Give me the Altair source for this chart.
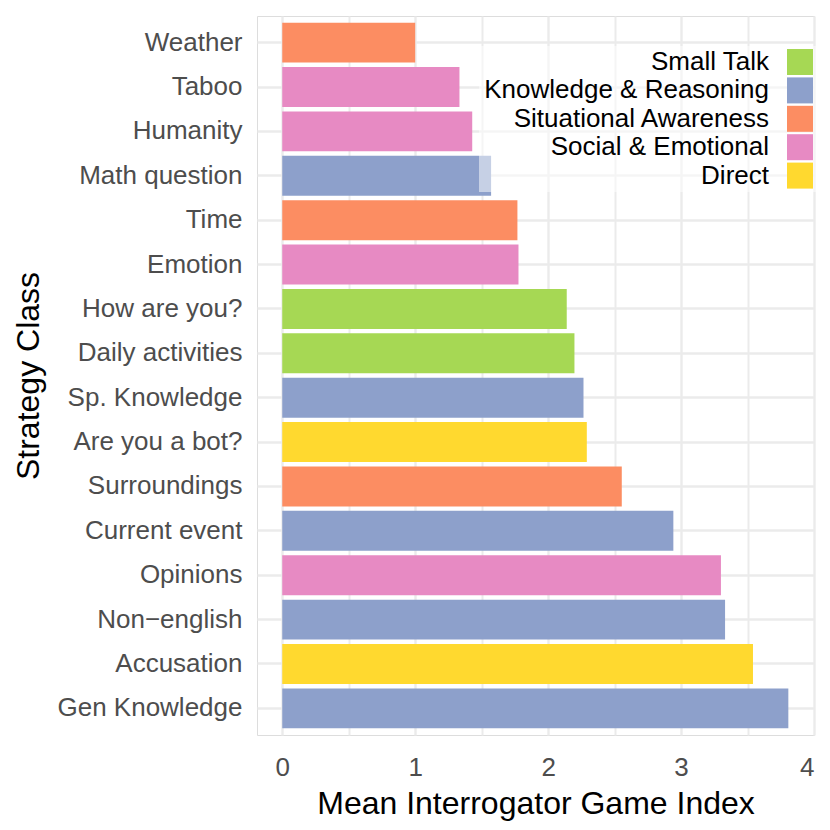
import altair as alt
import pandas as pd

categories = ["Weather", "Taboo", "Humanity", "Math question", "Time", "Emotion",
              "How are you?", "Daily activities", "Sp. Knowledge", "Are you a bot?",
              "Surroundings", "Current event", "Opinions", "Non\u2212english",
              "Accusation", "Gen Knowledge"]
values = [1.00, 1.333, 1.429, 1.571, 1.769, 1.777, 2.14, 2.198, 2.266, 2.291,
          2.554, 2.942, 3.30, 3.331, 3.541, 3.807]
groups = ["Situational Awareness", "Social & Emotional", "Social & Emotional",
          "Knowledge & Reasoning", "Situational Awareness", "Social & Emotional",
          "Small Talk", "Small Talk", "Knowledge & Reasoning", "Direct",
          "Situational Awareness", "Knowledge & Reasoning", "Social & Emotional",
          "Knowledge & Reasoning", "Direct", "Knowledge & Reasoning"]

legend_order = ["Small Talk", "Knowledge & Reasoning", "Situational Awareness",
                "Social & Emotional", "Direct"]
legend_colors = ["#A6D854", "#8DA0CB", "#FC8D62", "#E78AC3", "#FFD92F"]
x_ticks = [0, 0.5, 1, 1.5, 2, 2.5, 3, 3.5, 4]

df = pd.DataFrame({"cat": categories, "val": values, "grp": groups})

FONT = "Liberation Sans"

chart = alt.Chart(df).mark_bar(opacity=1).encode(
    x=alt.X("val:Q",
            title="Mean Interrogator Game Index",
            scale=alt.Scale(domain=[-0.19, 4.0], nice=False, zero=False),
            axis=alt.Axis(values=x_ticks,
                          labelExpr="datum.value % 1 == 0 ? format(datum.value, 'd') : ''",
                          grid=True, gridColor="#EBEBEB",
                          gridWidth={"condition": {"test": "datum.value % 1 == 0", "value": 2.4}, "value": 2.0},
                          ticks=False, tickSize=0, domain=False,
                          labelFont=FONT, labelFontSize=26, labelColor="#4D4D4D",
                          labelPadding=19,
                          titleFont=FONT, titleFontSize=32, titleColor="black",
                          titleFontWeight="normal", titlePadding=8)),
    y=alt.Y("cat:N", sort=categories, title="Strategy Class",
            scale=alt.Scale(paddingInner=0.1, paddingOuter=0.15),
            axis=alt.Axis(grid=True, gridColor="#EBEBEB", gridWidth=2.6,
                          bandPosition=0.5,
                          ticks=False, tickSize=0, domain=False,
                          labelFont=FONT, labelFontSize=26, labelColor="#4D4D4D",
                          labelPadding=15, labelLimit=400,
                          titleFont=FONT, titleFontSize=32, titleColor="black",
                          titleFontWeight="normal", titlePadding=12)),
    color=alt.Color("grp:N",
                    scale=alt.Scale(domain=legend_order, range=legend_colors),
                    legend=alt.Legend(title=None, orient="none",
                                      legendX=222, legendY=30,
                                      symbolType="square", symbolSize=676,
                                      symbolStrokeWidth=0, symbolOpacity=1,
                                      symbolOffset=305,
                                      labelAlign="right",
                                      labelOffset={"expr": "-44"},
                                      labelLimit=400,
                                      labelFont=FONT, labelFontSize=26,
                                      labelColor="black",
                                      rowPadding=2.4, padding=3,
                                      fillColor="rgba(255,255,255,0.5)")),
).properties(
    width=557, height=719,
    autosize=alt.AutoSizeParams(type="none"),
    padding={"left": 249, "top": 8, "right": 8, "bottom": 86},
).configure_view(stroke=None).configure(background="white")

chart.save("out.html", embed_options={"renderer": "svg", "actions": False})
